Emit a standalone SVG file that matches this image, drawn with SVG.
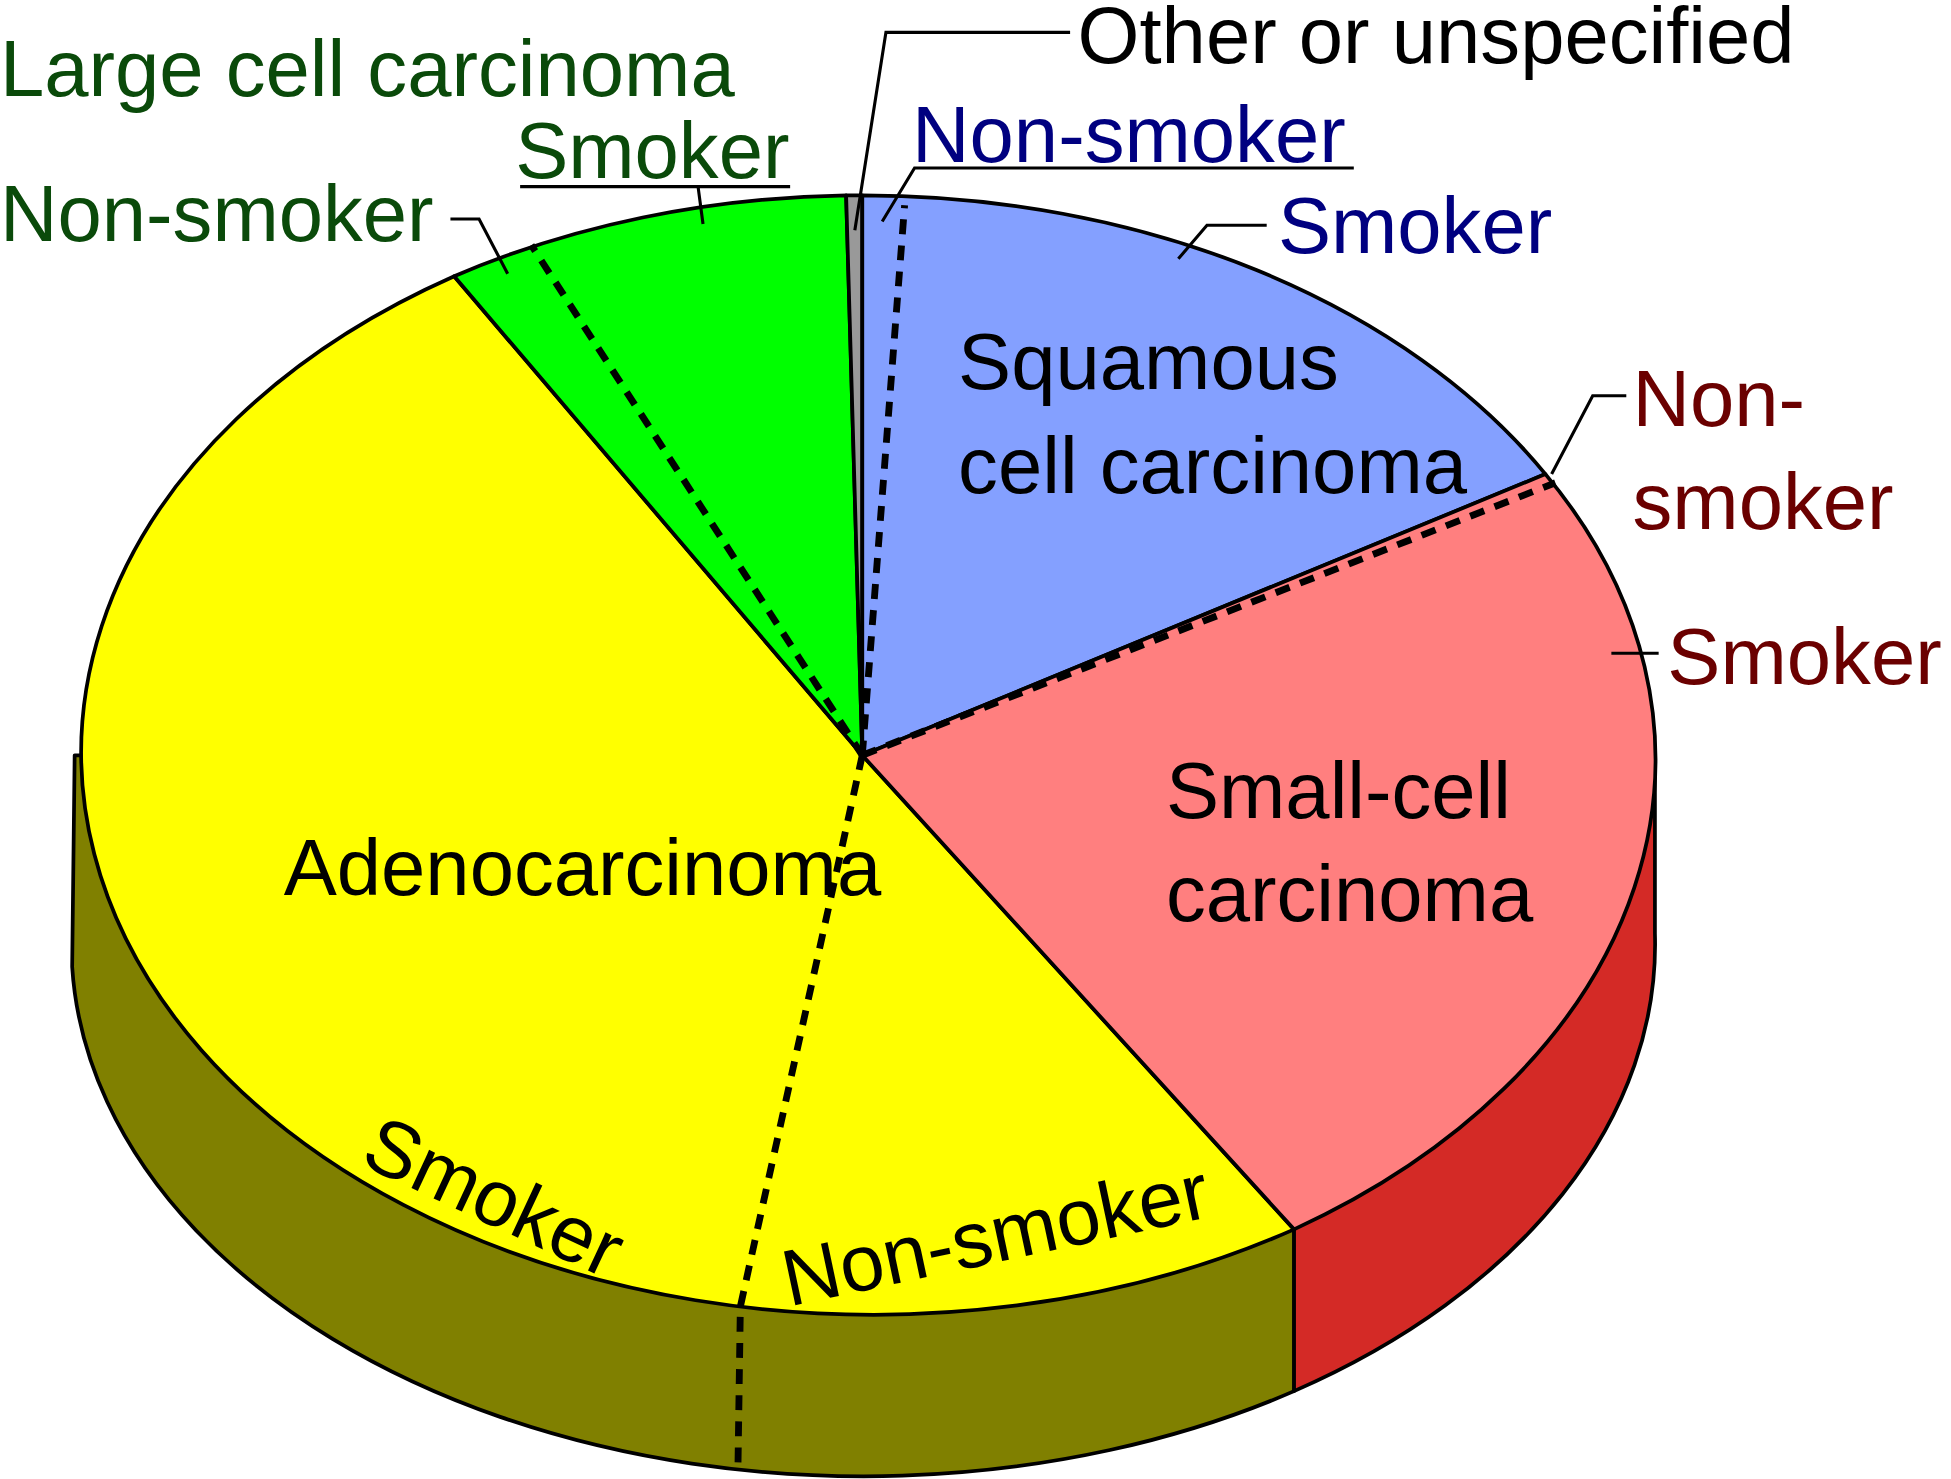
<svg xmlns="http://www.w3.org/2000/svg" width="1951" height="1479" viewBox="0 0 1951 1479">
<style>
.e{stroke:#000;stroke-width:3;stroke-linejoin:round}
.d{fill:none;stroke:#000;stroke-width:5.5;stroke-dasharray:12,9}
.l{fill:none;stroke:#000;stroke-width:2.5}
text{font-family:"Liberation Sans",Arial,sans-serif;font-size:64px}
.g{fill:#0a4a0a}.b{fill:#000080}.r{fill:#6b0000}
</style>
<rect width="1951" height="1479" fill="#fff"/>
<g transform="scale(1.2443)">
<g id="side-yellow"><path class="e" fill="#808000" d="M60,607 L58,777 A637,428 0 0 0 1040,1118 L1040,988 L693,607 Z"/></g>
<g id="side-red"><path class="e" fill="#d42a26" d="M1040,988 L1040,1118 A637,428 0 0 0 1330,750 L1330,607 L693,607 Z"/></g>
<g id="adeno"><path class="e" fill="#ffff00" d="M693,607 L1040,988 A635,450 0 0 1 365,222 Z"/></g>
<g id="large"><path class="e" fill="#00ff00" d="M693,607 L365,222 A635,450 0 0 1 680,157 Z"/></g>
<g id="other"><path class="e" fill="#999" d="M693,607 L680,157 A635,450 0 0 1 693,157 Z"/></g>
<g id="squamous"><path class="e" fill="#84a0ff" d="M693,607 L693,157 A635,450 0 0 1 1242,381 Z"/></g>
<g id="small"><path class="e" fill="#ff7f7f" d="M693,607 L1242,381 A635,450 0 0 1 1040,988 Z"/></g>
<g id="connectors">
<path class="d" d="M693,607 L427,197"/>
<path class="d" d="M693,607 L727,165"/>
<path class="d" d="M693,607 L1250,388"/>
<path class="d" d="M693,607 L595,1050 L593,1184"/>
<path class="l" d="M687,185 L712,26 L860,26"/>
<path class="l" d="M709,178 L735,135 L1088,135"/>
<path class="l" d="M947,208 L970,181 L1018,181"/>
<path class="l" d="M1247,381 L1280,318 L1307,318"/>
<path class="l" d="M1295,525 L1333,525"/>
<path class="l" d="M362,176 L385,176 L408,220"/>
<path class="l" d="M418,150 L635,150 M561,150 L565,180"/>
</g>
<g id="labels">
<text x="866" y="51">Other or unspecified</text>
<text x="0" y="77" class="g">Large cell carcinoma</text>
<text x="414" y="143" class="g">Smoker</text>
<text x="0" y="194" class="g">Non-smoker</text>
<text x="733" y="130" class="b">Non-smoker</text>
<text x="1027" y="203" class="b">Smoker</text>
<text x="1312" y="342" class="r">Non-</text>
<text x="1312" y="425" class="r">smoker</text>
<text x="1340" y="550" class="r">Smoker</text>
<text x="770" y="313">Squamous</text>
<text x="770" y="396">cell carcinoma</text>
<text x="937" y="657">Small-cell</text>
<text x="937" y="740">carcinoma</text>
<text x="228" y="719">Adenocarcinoma</text>
<text transform="translate(288,935) rotate(25)">Smoker</text>
<text transform="translate(634,1050) rotate(-12)">Non-smoker</text>
</g>
</g>
</svg>
